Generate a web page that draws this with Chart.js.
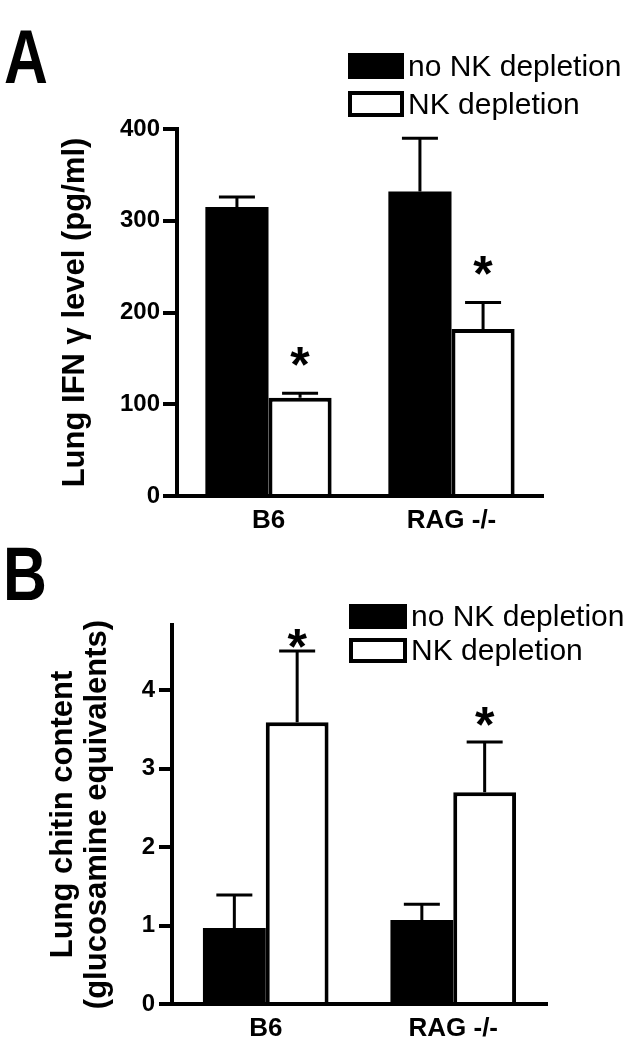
<!DOCTYPE html>
<html>
<head>
<meta charset="utf-8">
<script src="https://cdn.jsdelivr.net/npm/chart.js@4.4.0/dist/chart.umd.min.js"></script>
<style>
  body { margin: 0; background: #fff; }
  #wrap { position: relative; width: 631px; height: 1050px; }
  #chartA { position: absolute; left: 0; top: 0; }
  #chartB { position: absolute; left: 0; top: 540px; }
</style>
</head>
<body>
<div id="wrap">
  <canvas id="chartA" width="631" height="540"></canvas>
  <canvas id="chartB" width="631" height="510"></canvas>
</div>
<script>
const groups = ['B6', 'RAG -/-'];
const seriesNames = ['no NK depletion', 'NK depletion'];

// panel A - lung IFN gamma, pg/ml
const ifnNoDepl = [315, 332];
const ifnNoDeplErr = [11, 58];
const ifnDepl = [107, 182];
const ifnDeplErr = [5, 29];
const ifnTicks = [0, 100, 200, 300, 400];
const ifnMax = 400;

// panel B - lung chitin, glucosamine equivalents
const chitinNoDepl = [0.97, 1.07];
const chitinNoDeplErr = [0.42, 0.20];
const chitinDepl = [3.59, 2.70];
const chitinDeplErr = [0.91, 0.64];
const chitinTicks = [0, 1, 2, 3, 4];
const chitinMax = 4.83;

// asterisk over the depletion bars
const starsNoDepl = [false, false];
const starsDepl = [true, true];

Chart.defaults.color = '#000';
Chart.defaults.font.family = '"Liberation Sans", Arial, sans-serif';

// error bars (upper only) + asterisks
const errorBars = {
  id: 'errorBars',
  afterDatasetsDraw(chart, args, opts) {
    const ctx = chart.ctx;
    const ys = chart.scales.y;
    ctx.save();
    ctx.strokeStyle = '#000';
    ctx.lineWidth = 3;
    chart.data.datasets.forEach((ds, i) => {
      chart.getDatasetMeta(i).data.forEach((bar, j) => {
        const top = ys.getPixelForValue(ds.data[j] + ds.errors[j]);
        ctx.beginPath();
        ctx.moveTo(bar.x, bar.y);
        ctx.lineTo(bar.x, top);
        ctx.moveTo(bar.x - 18, top);
        ctx.lineTo(bar.x + 18, top);
        ctx.stroke();
        if (ds.stars[j]) {
          ctx.fillStyle = '#000';
          ctx.font = 'bold 50px "Liberation Sans", Arial, sans-serif';
          ctx.textAlign = 'center';
          ctx.textBaseline = 'alphabetic';
          ctx.fillText('*', bar.x, top - opts.starGap[j] + 27);
        }
      });
    });
    ctx.restore();
  }
};

// panel letter and the boxed legend
const panelDeco = {
  id: 'panelDeco',
  afterDraw(chart, args, o) {
    const ctx = chart.ctx;
    ctx.save();
    ctx.fillStyle = '#000';
    ctx.textAlign = 'left';
    ctx.textBaseline = 'alphabetic';
    // letter is a bit condensed in the figure
    ctx.save();
    ctx.translate(o.letterX, o.letterY);
    ctx.scale(0.8, 1);
    ctx.font = 'bold 76px "Liberation Sans", sans-serif';
    ctx.fillText(o.letter, 0, 0);
    ctx.restore();
    ctx.font = '30px "Liberation Sans", Arial, sans-serif';
    chart.data.datasets.forEach((ds, i) => {
      const top = o.legendY + i * o.rowGap;
      ctx.fillStyle = '#000';
      ctx.fillRect(o.legendX, top, o.boxW, o.boxH);
      if (ds.backgroundColor !== '#000') {
        ctx.fillStyle = '#fff';
        ctx.fillRect(o.legendX + 4, top + 4, o.boxW - 8, o.boxH - 8);
      }
      ctx.fillStyle = '#000';
      ctx.fillText(ds.label, o.legendX + o.boxW + 4, top + o.boxH - 3);
    });
    ctx.restore();
  }
};

function barSets(noDepl, noDeplErr, depl, deplErr) {
  return [{
    label: seriesNames[0],
    data: noDepl,
    errors: noDeplErr,
    stars: starsNoDepl,
    backgroundColor: '#000',
    borderWidth: 0
  }, {
    label: seriesNames[1],
    data: depl,
    errors: deplErr,
    stars: starsDepl,
    backgroundColor: '#fff',
    borderColor: '#000',
    borderWidth: 4,
    borderSkipped: 'start'
  }];
}

function axes(o) {
  return {
    x: {
      z: 1,
      grid: { display: false, drawTicks: false },
      border: { display: true, color: '#000', width: 4 },
      ticks: { font: { size: 26, weight: 'bold' }, padding: o.xPad },
      afterFit: s => { s.height = o.xHeight; }
    },
    y: {
      z: 1,
      min: 0,
      max: o.max,
      afterBuildTicks: s => { s.ticks = o.ticks.map(v => ({ value: v })); },
      ticks: { font: { size: 24, weight: 'bold' }, padding: o.tickPad },
      grid: { drawOnChartArea: false, drawTicks: true, tickLength: o.tickLen, color: '#000', lineWidth: 4 },
      border: { display: true, color: '#000', width: 4 },
      title: {
        display: true,
        text: o.title,
        font: { size: o.titleSize, weight: 'bold', lineHeight: 1.1 },
        padding: { top: o.titlePad, bottom: 0 }
      },
      afterFit: s => { s.width = o.yWidth; }
    }
  };
}

new Chart(document.getElementById('chartA'), {
  type: 'bar',
  data: { labels: groups, datasets: barSets(ifnNoDepl, ifnNoDeplErr, ifnDepl, ifnDeplErr) },
  options: {
    responsive: false,
    animation: false,
    devicePixelRatio: 1,
    layout: { padding: { top: 129, right: 88, left: 0, bottom: 0 } },
    datasets: { bar: { categoryPercentage: 0.69, barPercentage: 1 } },
    scales: axes({
      max: ifnMax, ticks: ifnTicks, title: 'Lung IFN \u03b3 level (pg/ml)', titleSize: 31,
      titlePad: 58, yWidth: 177, xHeight: 44, xPad: 9, tickLen: 14, tickPad: 3
    }),
    plugins: {
      legend: { display: false },
      tooltip: { enabled: false },
      errorBars: { starGap: [38, 38] },
      panelDeco: { letter: 'A', letterX: 4, letterY: 83, legendX: 348, legendY: 53, rowGap: 38, boxW: 56, boxH: 26 }
    }
  },
  plugins: [errorBars, panelDeco]
});

new Chart(document.getElementById('chartB'), {
  type: 'bar',
  data: { labels: groups, datasets: barSets(chitinNoDepl, chitinNoDeplErr, chitinDepl, chitinDeplErr) },
  options: {
    responsive: false,
    animation: false,
    devicePixelRatio: 1,
    layout: { padding: { top: 85, right: 84, left: 0, bottom: 0 } },
    datasets: { bar: { categoryPercentage: 0.67, barPercentage: 1 } },
    scales: axes({
      max: chitinMax, ticks: chitinTicks, title: ['Lung chitin content', '(glucosamine equivalents)'], titleSize: 31,
      titlePad: 46, yWidth: 172, xHeight: 46, xPad: 9, tickLen: 13, tickPad: 4
    }),
    plugins: {
      legend: { display: false },
      tooltip: { enabled: false },
      errorBars: { starGap: [14, 27] },
      panelDeco: { letter: 'B', letterX: 3, letterY: 60, legendX: 349, legendY: 64, rowGap: 34, boxW: 58, boxH: 25 }
    }
  },
  plugins: [errorBars, panelDeco]
});
</script>
</body>
</html>
